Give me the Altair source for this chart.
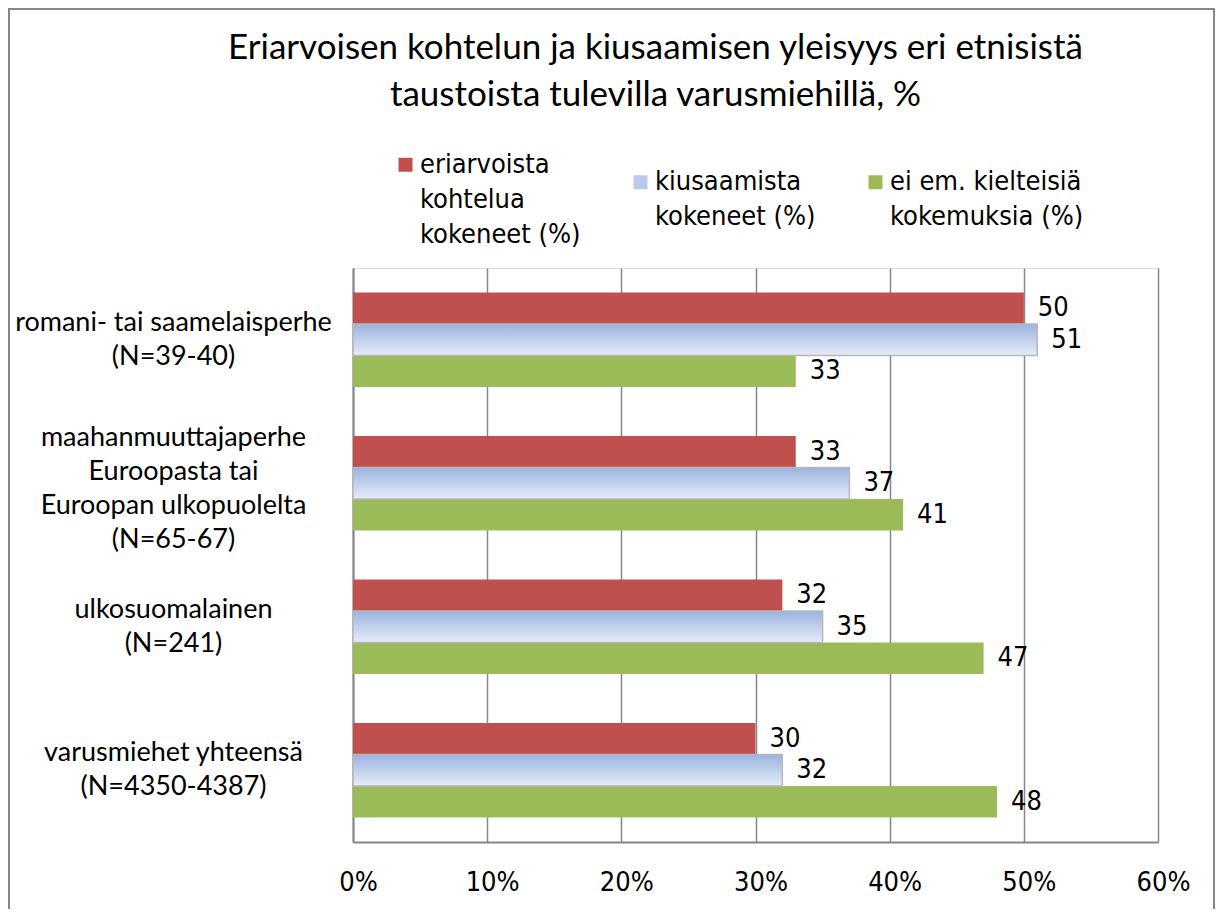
import altair as alt
import pandas as pd

categories = [
    "romani- tai saamelaisperhe\n(N=39-40)",
    "maahanmuuttajaperhe\nEuroopasta tai\nEuroopan ulkopuolelta\n(N=65-67)",
    "ulkosuomalainen\n(N=241)",
    "varusmiehet yhteensä\n(N=4350-4387)",
]
series = [
    "eriarvoista\nkohtelua\nkokeneet (%)",
    "kiusaamista\nkokeneet (%)",
    "ei em. kielteisiä\nkokemuksia (%)",
]
eriarvoista = [50, 33, 32, 30]
kiusaamista = [51, 37, 35, 32]
ei_kielteisia = [33, 41, 47, 48]
x_ticks = [0, 10, 20, 30, 40, 50, 60]
colors = ["#c0504d", "#b9cbeb", "#9bbb59"]

rows = []
for s, vals in zip(series, [eriarvoista, kiusaamista, ei_kielteisia]):
    for c, v in zip(categories, vals):
        rows.append({"category": c, "series": s, "value": v})
df = pd.DataFrame(rows)

NARROW = "Liberation Sans Narrow, Arial Narrow, DejaVu Sans Condensed, sans-serif"
LATO = "Lato, Carlito, Calibri, sans-serif"

W, H = 805, 574
LH = 34

x_enc = alt.X(
    "value:Q",
    scale=alt.Scale(domain=[0, 60], nice=False),
    axis=alt.Axis(
        values=x_ticks, title=None, labelExpr="datum.value + '%'",
        labelFont=NARROW, labelFontSize=27, labelColor="#000000",
        labelPadding=40, labelBaseline="middle", labelFlush=False,
        labelOffset=5, labelAlign="center",
        ticks=False, tickSize=0, grid=True, gridColor="#878787", gridWidth=1.5,
        domainColor="#868686", domainWidth=2,
    ),
)
y_enc = alt.Y(
    "category:N", sort=categories,
    scale=alt.Scale(paddingInner=0.34, paddingOuter=0.17),
    axis=alt.Axis(
        title=None, labelExpr="split(datum.label, '\\n')",
        labelFont=LATO, labelFontSize=27, labelColor="#000000",
        labelLineHeight=LH, labelAlign="center", labelBaseline="middle",
        labelOffset=alt.ConditionalAxisNumber(
            condition={"test": "length(split(datum.label, '\\n')) == 4", "value": -1.5 * LH + 6},
            value=-0.5 * LH,
        ),
        labelPadding=180, labelLimit=0, ticks=False, tickSize=0,
        domainColor="#868686", domainWidth=2, grid=False,
    ),
)
yoff = alt.YOffset("series:N", sort=series, scale=alt.Scale(domain=series, paddingInner=0, paddingOuter=0))

base = alt.Chart(df)

bars = base.mark_bar().encode(
    x=x_enc, y=y_enc, yOffset=yoff,
    color=alt.Color(
        "series:N", sort=series,
        scale=alt.Scale(domain=series, range=colors),
        legend=alt.Legend(
            title=None, orient="none", legendX=39, legendY=-117,
            direction="horizontal", columns=3, columnPadding=46,
            symbolType="square", symbolSize=196, symbolStrokeWidth=0,
            labelFont=NARROW, labelFontSize=27, labelColor="#000000",
            labelOffset=1, labelLimit=400, labelBaseline="middle",
            labelExpr="split(datum.label, '\\n')", padding=0,
        ),
    ),
)

gradient = alt.Gradient(
    gradient="linear", x1=0, y1=0, x2=0, y2=1,
    stops=[alt.GradientStop(offset=0, color="#9ab3e0"),
           alt.GradientStop(offset=1, color="#e6ecf7")],
)
blue_overlay = base.transform_filter(
    alt.datum.series == series[1]
).mark_bar(fill=gradient, stroke="#b8b8b8", strokeWidth=1.5).encode(
    x="value:Q", y=alt.Y("category:N", sort=categories), yOffset=yoff,
)

labels = base.mark_text(
    align="left", baseline="middle", dx=14,
    font=NARROW, fontSize=27, color="#000000",
).encode(
    x="value:Q", y=alt.Y("category:N", sort=categories), yOffset=yoff,
    text=alt.Text("value:Q"),
)

border = alt.Chart(alt.Data(values=[{}])).mark_rect(
    fillOpacity=0, stroke="#868686", strokeWidth=2,
).encode(
    x=alt.value(-344), x2=alt.value(861), y=alt.value(-259), y2=alt.value(H + 200),
)

chart = alt.layer(border, bars, blue_overlay, labels).properties(
    width=W, height=H,
    autosize=alt.AutoSizeParams(type="none"),
    padding={"left": 345, "top": 260, "right": 57, "bottom": 67},
    title=alt.TitleParams(
        text=["Eriarvoisen kohtelun ja kiusaamisen yleisyys eri etnisistä",
              "taustoista tulevilla varusmiehillä, %"],
        font=LATO, fontSize=35, fontWeight="normal", color="#000000",
        lineHeight=47, anchor="middle", frame="group", dx=-100, dy=125, offset=20,
    ),
).configure_view(stroke=None).configure(
    background="#ffffff",
    style={"guide-label": {"lineHeight": 35}},
)

chart.save("out.html", embed_options={"renderer": "svg", "actions": False})
